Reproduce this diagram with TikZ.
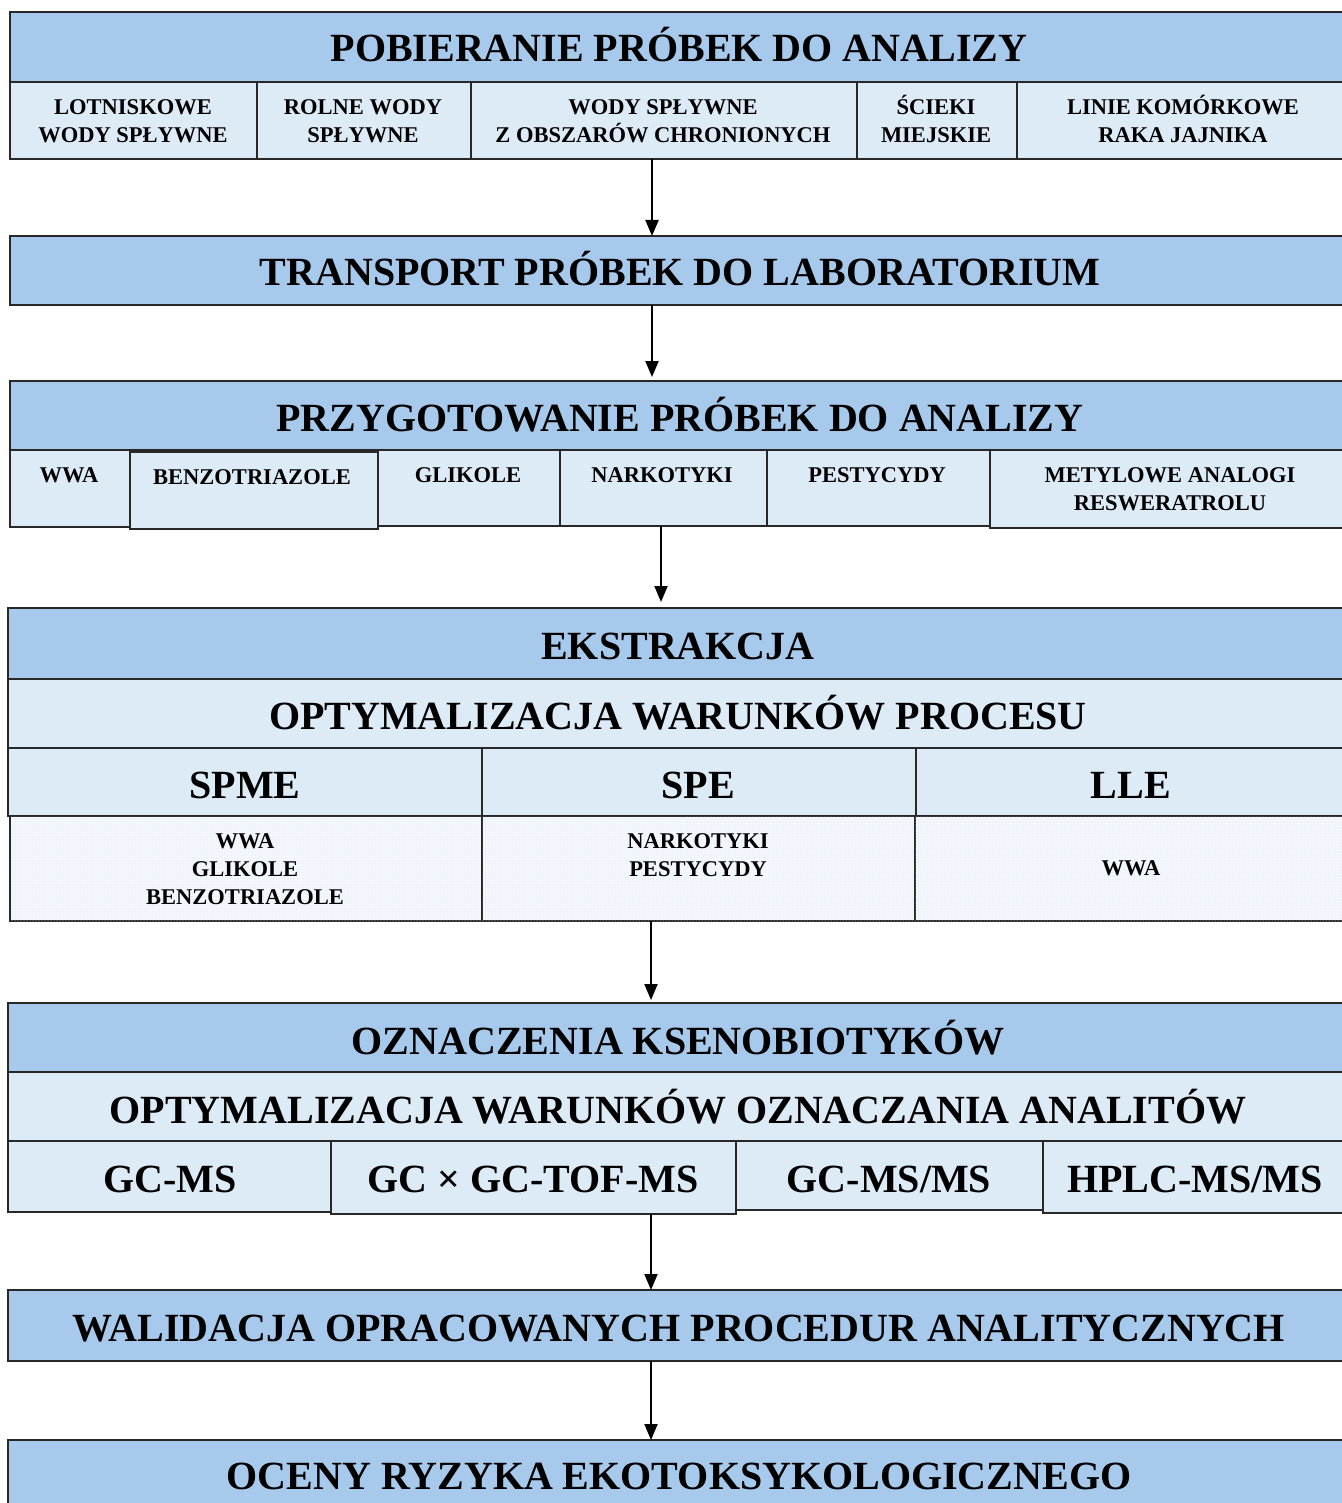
\documentclass[tikz,border=0pt]{standalone}
\usepackage{fontspec}
\setmainfont{Liberation Serif}
\usetikzlibrary{arrows.meta,patterns}
\definecolor{hdrblue}{RGB}{167,202,236}
\definecolor{subblue}{RGB}{221,235,247}
\definecolor{dotbase}{RGB}{244,248,253}
\definecolor{dotcol}{RGB}{205,222,242}
\definecolor{edge}{RGB}{40,40,40}
\tikzset{
  hdr/.style={draw=edge, line width=1.6pt, fill=hdrblue, inner sep=0pt, outer sep=0pt, anchor=north west},
  sub/.style={draw=edge, line width=1.6pt, fill=subblue, inner sep=0pt, outer sep=0pt, anchor=north west},
  dotcell/.style={draw=edge, line width=1.6pt, fill=dotbase, inner sep=0pt, outer sep=0pt, anchor=north west,
    postaction={pattern=dots, pattern color=dotcol}},
  big/.style={font=\fontsize{40}{44}\selectfont\bfseries, inner sep=0pt, anchor=base},
  small/.style={font=\fontsize{22.5}{28}\selectfont\bfseries, align=center, inner sep=0pt},
  arr/.style={line width=2pt, -{Triangle[length=16pt,width=13pt]}}
}
\newcommand\cellbox[6]{\node[#6, minimum width={#4-#2}, minimum height={#5-#3}] (#1) at (#2,#3) {};}
\begin{document}
\begin{tikzpicture}[x=1pt,y=-1pt]
\useasboundingbox (0,0) rectangle (1341,1503);
% ---- block 1
\cellbox{h1}{10}{12}{1348}{82}{hdr}
\node[big] (h1t) at (679,62) {POBIERANIE PRÓBEK DO ANALIZY};
\cellbox{s11}{10}{82}{257}{159}{sub}
\cellbox{s12}{257}{82}{471}{159}{sub}
\cellbox{s13}{471}{82}{857}{159}{sub}
\cellbox{s14}{857}{82}{1017}{159}{sub}
\cellbox{s15}{1017}{82}{1348}{159}{sub}
\node[small] (s11t) at (133,121) {LOTNISKOWE\\WODY SPŁYWNE};
\node[small] (s12t) at (363,121) {ROLNE WODY\\SPŁYWNE};
\node[small] (s13t) at (663,121) {WODY SPŁYWNE\\Z OBSZARÓW CHRONIONYCH};
\node[small] (s14t) at (936,119) {ŚCIEKI\\MIEJSKIE};
\node[small] (s15t) at (1183,119) {LINIE KOMÓRKOWE\\RAKA JAJNIKA};
% ---- block 2
\cellbox{h2}{10}{236}{1348}{305}{hdr}
\node[big] (h2t) at (680,286) {TRANSPORT PRÓBEK DO LABORATORIUM};
% ---- block 3
\cellbox{h3}{10}{381}{1348}{450}{hdr}
\node[big] (h3t) at (680,431) {PRZYGOTOWANIE PRÓBEK DO ANALIZY};
\cellbox{s31}{10}{450}{130}{527}{sub}
\cellbox{s32}{130}{452}{378}{529}{sub}
\cellbox{s33}{378}{450}{560}{526}{sub}
\cellbox{s34}{560}{450}{767}{526}{sub}
\cellbox{s35}{767}{450}{990}{526}{sub}
\cellbox{s36}{990}{450}{1348}{528}{sub}
\node[small, anchor=base] (s31t) at (69,482) {WWA};
\node[small, anchor=base] (s32t) at (252,484) {BENZOTRIAZOLE};
\node[small, anchor=base] (s33t) at (468,482) {GLIKOLE};
\node[small, anchor=base] (s34t) at (662,482) {NARKOTYKI};
\node[small, anchor=base] (s35t) at (877,482) {PESTYCYDY};
\node[small] (s36t) at (1170,489) {METYLOWE ANALOGI\\RESWERATROLU};
% ---- block 4
\cellbox{h4}{8}{608}{1348}{679}{hdr}
\node[big] (h4t) at (678,659) {EKSTRAKCJA};
\cellbox{h4b}{8}{679}{1348}{748}{sub}
\node[big] (h4bt) at (678,729) {OPTYMALIZACJA WARUNKÓW PROCESU};
\cellbox{m1}{8}{748}{482}{816}{sub}
\cellbox{m2}{482}{748}{916}{816}{sub}
\cellbox{m3}{916}{748}{1348}{816}{sub}
\node[big] (m1t) at (245,798) {SPME};
\node[big] (m2t) at (698,798) {SPE};
\node[big] (m3t) at (1131,798) {LLE};
\cellbox{c1}{10}{816}{482}{921}{dotcell}
\cellbox{c2}{482}{816}{915}{921}{dotcell}
\cellbox{c3}{915}{816}{1348}{921}{dotcell}
\node[small] (c1t) at (245,869) {WWA\\GLIKOLE\\BENZOTRIAZOLE};
\node[small] (c2t) at (698,855) {NARKOTYKI\\PESTYCYDY};
\node[small, anchor=base] (c3t) at (1131,875) {WWA};
% ---- block 5
\cellbox{h5}{8}{1003}{1348}{1072}{hdr}
\node[big] (h5t) at (678,1054) {OZNACZENIA KSENOBIOTYKÓW};
\cellbox{h5b}{8}{1072}{1348}{1141}{sub}
\node[big] (h5bt) at (678,1123) {OPTYMALIZACJA WARUNKÓW OZNACZANIA ANALITÓW};
\cellbox{g1}{8}{1141}{331}{1212}{sub}
\cellbox{g2}{331}{1141}{736}{1214}{sub}
\cellbox{g3}{736}{1141}{1043}{1210}{sub}
\cellbox{g4}{1043}{1141}{1348}{1213}{sub}
\node[big] (g1t) at (170,1192) {GC-MS};
\node[big] (g2t) at (533,1192) {GC × GC-TOF-MS};
\node[big] (g3t) at (889,1192) {GC-MS/MS};
\node[big] (g4t) at (1195,1192) {HPLC-MS/MS};
% ---- block 6
\cellbox{h6}{8}{1290}{1348}{1361}{hdr}
\node[big] (h6t) at (679,1341) {WALIDACJA OPRACOWANYCH PROCEDUR ANALITYCZNYCH};
% ---- block 7
\cellbox{h7}{8}{1440}{1348}{1515}{hdr}
\node[big] (h7t) at (679,1489) {OCENY RYZYKA EKOTOKSYKOLOGICZNEGO};
% ---- arrows
\coordinate (xa) at (652,0);
\coordinate (xb) at (661,0);
\coordinate (xc) at (651,0);
\draw[arr] (s13.south -| xa) -- (h2.north -| xa);
\draw[arr] (h2.south -| xa) -- ([yshift=4pt]h3.north -| xa);
\draw[arr] (s34.south -| xb) -- ([yshift=6pt]h4.north -| xb);
\draw[arr] (c2.south -| xc) -- ([yshift=3pt]h5.north -| xc);
\draw[arr] (g2.south -| xc) -- (h6.north -| xc);
\draw[arr] (h6.south -| xc) -- (h7.north -| xc);
\end{tikzpicture}
\end{document}
